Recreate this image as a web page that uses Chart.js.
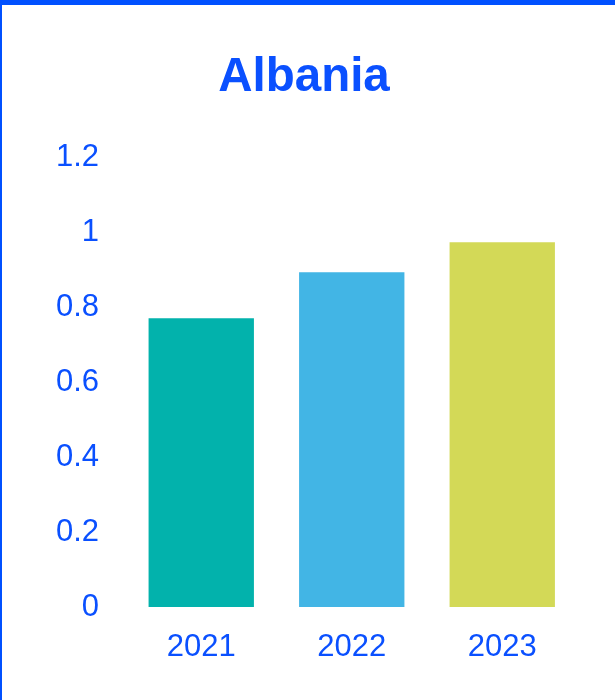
<!DOCTYPE html>
<html>
<head>
<meta charset="utf-8">
<script src="https://cdn.jsdelivr.net/npm/chart.js@4"></script>
<style>
  html, body { margin: 0; padding: 0; background: #fff; }
  #wrap { width: 613px; height: 695px; border-top: 5px solid #0050ff; border-left: 2px solid #0050ff; position: relative; }
  canvas { display: block; }
</style>
</head>
<body>
<div id="wrap"><canvas id="c" width="613" height="695"></canvas></div>
<script>
const titleText = "Albania";
const categories = ["2021", "2022", "2023"];
const values = [0.77, 0.893, 0.973];
const barColors = ["#02B2AC", "#42B5E5", "#D3D957"];
const yMin = 0, yMax = 1.2, yStep = 0.2;

const textColor = "#0a50ff";
const fontFamily = "'Liberation Sans', Arial, sans-serif";

new Chart(document.getElementById('c'), {
  type: 'bar',
  data: {
    labels: categories,
    datasets: [{
      data: values,
      backgroundColor: barColors,
      borderWidth: 0,
      barPercentage: 0.7,
      categoryPercentage: 1.0
    }]
  },
  options: {
    responsive: false,
    animation: false,
    devicePixelRatio: 1,
    layout: { padding: { left: 0, right: 9, top: 0, bottom: 0 } },
    plugins: {
      legend: { display: false },
      tooltip: { enabled: false },
      title: {
        display: true,
        text: titleText,
        color: textColor,
        font: { family: fontFamily, size: 47.5, weight: 'bold', lineHeight: 1.2 },
        padding: { top: 44, bottom: 51 }
      }
    },
    scales: {
      x: {
        grid: { display: false, drawTicks: false },
        border: { display: false },
        ticks: {
          color: textColor,
          font: { family: fontFamily, size: 31 },
          padding: 22
        },
        afterFit: (s) => { s.height = 93; }
      },
      y: {
        min: yMin,
        max: yMax,
        grid: { display: false, drawTicks: false },
        border: { display: false },
        ticks: {
          stepSize: yStep,
          color: textColor,
          font: { family: fontFamily, size: 31 },
          padding: 27,
          callback: (v) => String(Math.round(v * 10) / 10)
        },
        afterFit: (s) => { s.width = 124; }
      },
      yRight: {
        position: 'right',
        display: true,
        grid: { display: false, drawTicks: false },
        border: { display: false },
        ticks: { display: false },
        afterFit: (s) => { s.width = 28.5; }
      }
    }
  }
});
</script>
</body>
</html>
